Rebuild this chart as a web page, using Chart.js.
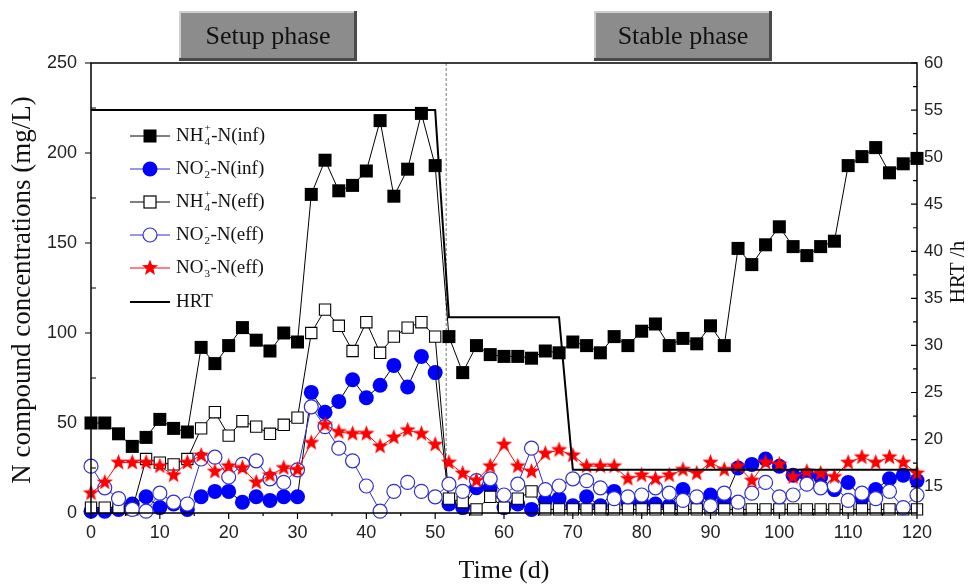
<!DOCTYPE html>
<html>
<head>
<meta charset="utf-8">
<script src="https://cdn.jsdelivr.net/npm/chart.js"></script>
<style>
  html, body { margin: 0; padding: 0; background: #fff; }
  #wrap { width: 968px; height: 586px; }
</style>
</head>
<body>
<div id="wrap"><canvas id="lineChart" width="968" height="586"></canvas></div>
<script>
// sampling days (d)
const days = [0, 2, 4, 6, 8, 10, 12, 14, 16, 18, 20, 22, 24, 26, 28, 30, 32, 34, 36, 38, 40,
  42, 44, 46, 48, 50, 52, 54, 56, 58, 60, 62, 64, 66, 68, 70, 72, 74, 76, 78, 80,
  82, 84, 86, 88, 90, 92, 94, 96, 98, 100, 102, 104, 106, 108, 110, 112, 114, 116, 118, 120];

// mg/L
const nh4Inf = [50, 50, 44, 37, 42, 52, 47, 45, 92, 83, 93, 103, 96, 90, 100, 95, 177, 196, 179, 182, 190,
  218, 176, 191, 222, 193, 98, 78, 93, 88, 87, 87, 86, 90, 89, 95, 93, 89, 98, 93, 101,
  105, 93, 97, 94, 104, 93, 147, 138, 149, 159, 148, 143, 148, 151, 193, 198, 203, 189, 194, 197];
const no2Inf = [1, 1, 2, 5, 9, 3, 5, 2, 9, 12, 12, 6, 9, 7, 9, 9, 67, 56, 62, 74, 64,
  71, 82, 70, 87, 78, 5, 3, 14, 14, 3, 5, 2, 7, 8, 4, 9, 4, 12, 6, 6,
  5, 4, 13, 8, 10, 7, 25, 27, 30, 26, 21, 21, 20, 13, 17, 8, 13, 19, 21, 18];
const nh4Eff = [3, 3, 3, 2, 30, 28, 27, 30, 47, 56, 43, 51, 48, 44, 49, 53, 100, 113, 104, 90, 106,
  89, 98, 103, 106, 98, 8, 6, 2, 9, 3, 8, 12, 2, 2, 2, 2, 2, 2, 2, 2,
  2, 2, 2, 2, 2, 2, 2, 2, 2, 2, 2, 2, 2, 2, 2, 2, 2, 2, 2, 2];
const no2Eff = [26, 14, 8, 2, 1, 11, 6, 5, 30, 31, 20, 27, 29, 19, 17, 24, 59, 48, 36, 29, 15,
  1, 12, 17, 12, 9, 16, 12, 18, 19, 10, 16, 36, 13, 15, 19, 18, 14, 8, 9, 10,
  14, 11, 7, 9, 4, 11, 6, 11, 17, 9, 10, 16, 14, 15, 7, 11, 8, 12, 3, 10];
const no3Eff = [11, 17, 28, 28, 28, 26, 21, 28, 32, 23, 26, 25, 17, 21, 25, 24, 39, 49, 45, 44, 44,
  37, 42, 46, 44, 38, 28, 22, 18, 26, 38, 26, 23, 33, 35, 32, 26, 26, 26, 19, 21,
  19, 21, 24, 22, 28, 24, 26, 18, 28, 27, 20, 23, 22, 20, 28, 31, 28, 31, 28, 22];

// HRT step line (h)
const hrtDays = [0, 50, 52, 68, 70, 120];
const hrtHours = [55, 55, 33, 33, 16.8, 16.8];

const xTicks = [0, 10, 20, 30, 40, 50, 60, 70, 80, 90, 100, 110, 120];
const leftTicks = [0, 50, 100, 150, 200, 250];
const rightTicks = [15, 20, 25, 30, 35, 40, 45, 50, 55, 60];
const phaseDay = 51.6;

const pts = (xs, ys) => xs.map((d, i) => ({ x: d, y: ys[i] }));

// red five-point star used as point style
function makeStar(r, color) {
  const c = document.createElement("canvas");
  c.width = c.height = Math.ceil(2 * r + 2);
  const g = c.getContext("2d");
  drawStar(g, c.width / 2, c.height / 2, r, color);
  return c;
}
function drawStar(g, cx, cy, r, color) {
  g.beginPath();
  for (let i = 0; i < 10; i++) {
    const rr = i % 2 === 0 ? r : r * 0.42;
    const a = -Math.PI / 2 + i * Math.PI / 5;
    g.lineTo(cx + rr * Math.cos(a), cy + rr * Math.sin(a));
  }
  g.closePath();
  g.fillStyle = color;
  g.fill();
}
const star = makeStar(8.5, "#ff0000");

const BLUE = "#0000ff";
const OBLUE = "#2f2fd0";
const serif = '"Liberation Serif", "Times New Roman", serif';
const sans = '"Liberation Sans", Arial, sans-serif';

// ticks, frame, phase line, legend, phase labels
const decor = {
  id: "decor",
  beforeDatasetsDraw(chart) {
    const { ctx, chartArea: a, scales } = chart;
    const x = scales.x.getPixelForValue(phaseDay);
    ctx.save();
    ctx.strokeStyle = "#777";
    ctx.lineWidth = 1;
    ctx.setLineDash([3, 2]);
    ctx.beginPath();
    ctx.moveTo(x, a.top);
    ctx.lineTo(x, a.bottom);
    ctx.stroke();
    ctx.restore();
  },
  afterDraw(chart) {
    const { ctx, chartArea: a, scales } = chart;
    ctx.save();
    ctx.strokeStyle = "#000";
    ctx.lineWidth = 1.5;
    ctx.strokeRect(a.left, a.top, a.right - a.left, a.bottom - a.top);

    ctx.lineWidth = 1.2;
    ctx.beginPath();
    // bottom axis: majors every 10, minors every 5, outward
    for (let d = 0; d <= 120; d += 5) {
      const px = scales.x.getPixelForValue(d);
      const len = d % 10 === 0 ? 6 : 3;
      ctx.moveTo(px, a.bottom);
      ctx.lineTo(px, a.bottom + len);
    }
    // left axis: majors out, minors in
    for (let v = 0; v <= 250; v += 25) {
      const py = scales.y.getPixelForValue(v);
      if (v % 50 === 0) { ctx.moveTo(a.left - 6, py); ctx.lineTo(a.left, py); }
      else { ctx.moveTo(a.left, py); ctx.lineTo(a.left + 5, py); }
    }
    // right axis
    for (let v = 15; v <= 60; v += 2.5) {
      const py = scales.y1.getPixelForValue(v);
      const len = v % 5 === 0 ? 6 : 4;
      ctx.moveTo(a.right - len, py);
      ctx.lineTo(a.right, py);
    }
    ctx.stroke();

    // axis titles
    ctx.fillStyle = "#111";
    ctx.textAlign = "center";
    ctx.textBaseline = "middle";
    ctx.font = "26px " + serif;
    ctx.fillText("Time (d)", 504, 571);
    ctx.save();
    ctx.translate(23, 290);
    ctx.rotate(-Math.PI / 2);
    ctx.font = "27px " + serif;
    ctx.fillText("N compound concentrations (mg/L)", 0, 0);
    ctx.restore();
    ctx.save();
    ctx.translate(958, 272);
    ctx.rotate(-Math.PI / 2);
    ctx.font = "21px " + serif;
    ctx.fillText("HRT /h", 0, 0);
    ctx.restore();

    // phase boxes
    const box = (x0, x1, label) => {
      const y0 = 11, y1 = 61;
      ctx.fillStyle = "#8c8c8c";
      ctx.fillRect(x0, y0, x1 - x0, y1 - y0);
      ctx.fillStyle = "#cfcfcf";
      ctx.fillRect(x0, y0, x1 - x0, 2);
      ctx.fillRect(x0, y0, 2, y1 - y0);
      ctx.fillStyle = "#4a4a4a";
      ctx.fillRect(x0, y1 - 3, x1 - x0, 3);
      ctx.fillRect(x1 - 3, y0, 3, y1 - y0);
      ctx.fillStyle = "#111";
      ctx.font = "26px " + serif;
      ctx.textAlign = "center";
      ctx.fillText(label, (x0 + x1) / 2, 37);
    };
    box(179, 357, "Setup phase");
    box(594, 772, "Stable phase");

    // legend
    const rows = [
      { y: 136, base: "NH", sup: "+", sub: "4", rest: "-N(inf)", m: "fsq" },
      { y: 169, base: "NO", sup: "-", sub: "2", rest: "-N(inf)", m: "fci" },
      { y: 202, base: "NH", sup: "+", sub: "4", rest: "-N(eff)", m: "osq" },
      { y: 235, base: "NO", sup: "-", sub: "2", rest: "-N(eff)", m: "oci" },
      { y: 268, base: "NO", sup: "-", sub: "3", rest: "-N(eff)", m: "star" },
      { y: 302, base: "HRT", m: "hrt" }
    ];
    ctx.textAlign = "left";
    rows.forEach(r => {
      const col = r.m === "fci" || r.m === "oci" ? OBLUE : r.m === "star" ? "#ff0000" : "#000";
      ctx.strokeStyle = col;
      ctx.lineWidth = r.m === "hrt" ? 2 : 1;
      ctx.beginPath();
      ctx.moveTo(130, r.y);
      ctx.lineTo(170, r.y);
      ctx.stroke();
      ctx.lineWidth = 1.2;
      if (r.m === "fsq") { ctx.fillStyle = "#000"; ctx.fillRect(143.5, r.y - 6.5, 13, 13); }
      if (r.m === "osq") { ctx.fillStyle = "#fff"; ctx.fillRect(144, r.y - 6, 12, 12); ctx.strokeStyle = "#000"; ctx.strokeRect(144, r.y - 6, 12, 12); }
      if (r.m === "fci") { ctx.fillStyle = BLUE; ctx.beginPath(); ctx.arc(150, r.y, 7.5, 0, 2 * Math.PI); ctx.fill(); }
      if (r.m === "oci") { ctx.fillStyle = "#fff"; ctx.beginPath(); ctx.arc(150, r.y, 7, 0, 2 * Math.PI); ctx.fill(); ctx.stroke(); }
      if (r.m === "star") drawStar(ctx, 150, r.y, 8.5, "#ff0000");
      ctx.fillStyle = "#111";
      let tx = 176;
      ctx.font = "19px " + serif;
      ctx.fillText(r.base, tx, r.y);
      tx += ctx.measureText(r.base).width;
      if (r.sup) {
        ctx.font = "11px " + serif;
        ctx.fillText(r.sup, tx + 1, r.y - 8);
        ctx.fillText(r.sub, tx + 1, r.y + 6);
        tx += Math.max(ctx.measureText(r.sup).width, ctx.measureText(r.sub).width) + 1.5;
        ctx.font = "19px " + serif;
        ctx.fillText(r.rest, tx, r.y);
      }
    });
    ctx.restore();
  }
};

const ctx = document.getElementById("lineChart").getContext("2d");
new Chart(ctx, {
  type: "line",
  data: {
    datasets: [
      {
        label: "HRT", data: pts(hrtDays, hrtHours), yAxisID: "y1",
        borderColor: "#000", borderWidth: 2, pointRadius: 0, order: 0
      },
      {
        label: "NO3-N(eff)", data: pts(days, no3Eff), yAxisID: "y",
        borderColor: "#ff0000", borderWidth: 1, pointStyle: star, pointRadius: 9, order: 1
      },
      {
        label: "NO2-N(eff)", data: pts(days, no2Eff), yAxisID: "y",
        borderColor: OBLUE, borderWidth: 1, pointStyle: "circle", pointRadius: 7,
        pointBackgroundColor: "#fff", pointBorderColor: OBLUE, pointBorderWidth: 1.2, order: 2
      },
      {
        label: "NH4-N(eff)", data: pts(days, nh4Eff), yAxisID: "y",
        borderColor: "#000", borderWidth: 1, pointStyle: "rect", pointRadius: 8,
        pointBackgroundColor: "#fff", pointBorderColor: "#000", pointBorderWidth: 1.1, order: 3
      },
      {
        label: "NO2-N(inf)", data: pts(days, no2Inf), yAxisID: "y",
        borderColor: "#000", borderWidth: 1, pointStyle: "circle", pointRadius: 7.5,
        pointBackgroundColor: BLUE, pointBorderColor: BLUE, pointBorderWidth: 0, order: 4
      },
      {
        label: "NH4-N(inf)", data: pts(days, nh4Inf), yAxisID: "y",
        borderColor: "#000", borderWidth: 1, pointStyle: "rect", pointRadius: 9.2,
        pointBackgroundColor: "#000", pointBorderColor: "#000", pointBorderWidth: 0, order: 5
      }
    ]
  },
  options: {
    responsive: false,
    animation: false,
    devicePixelRatio: 1,
    layout: { padding: { top: 63, left: 0, right: 0, bottom: 0 } },
    elements: { line: { tension: 0 } },
    datasets: { line: { clip: 12 } },
    plugins: { legend: { display: false }, tooltip: { enabled: false } },
    scales: {
      x: {
        type: "linear", min: 0, max: 120,
        afterBuildTicks: s => { s.ticks = xTicks.map(v => ({ value: v })); },
        afterFit: s => { s.height = 73; },
        grid: { display: false, drawTicks: false },
        border: { display: false },
        ticks: { padding: 9, color: "#222", font: { family: sans, size: 18 } }
      },
      y: {
        position: "left", min: 0, max: 250,
        afterBuildTicks: s => { s.ticks = leftTicks.map(v => ({ value: v })); },
        afterFit: s => { s.width = 91; },
        grid: { display: false, drawTicks: false },
        border: { display: false },
        ticks: { padding: 14, color: "#222", font: { family: sans, size: 18 } }
      },
      y1: {
        position: "right", min: 12.2, max: 60,
        afterBuildTicks: s => { s.ticks = rightTicks.map(v => ({ value: v })); },
        afterFit: s => { s.width = 51; },
        grid: { display: false, drawTicks: false },
        border: { display: false },
        ticks: { padding: 7, color: "#222", font: { family: sans, size: 17 } }
      }
    }
  },
  plugins: [decor]
});
</script>
</body>
</html>
